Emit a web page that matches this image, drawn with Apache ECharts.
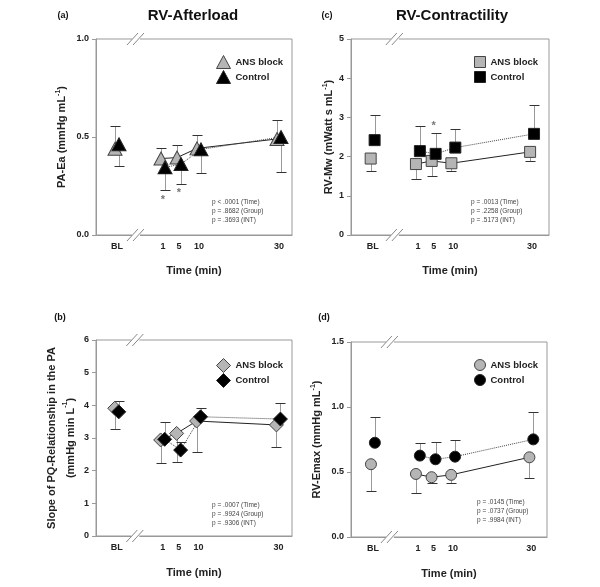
<!DOCTYPE html>
<html>
<head>
<meta charset="utf-8">
<script src="https://cdn.jsdelivr.net/npm/echarts@6/dist/echarts.min.js"></script>
<style>html,body{margin:0;padding:0;background:#fff}#c{width:600px;height:587px}</style>
</head>
<body>
<div id="c"></div>
<script>
// ---- data ----
const timeLabels = ['BL', '1', '5', '10', '30'];
const timeValues = [-10.5, 1, 5, 10, 30];

// (a) RV-Afterload: PA-Ea
const afterloadAns = [0.44, 0.39, 0.395, 0.442, 0.49];
const afterloadAnsSD = [0.115, 0.054, 0.062, 0.066, 0.097];
const afterloadCtrl = [0.463, 0.345, 0.362, 0.437, 0.50];
const afterloadCtrlSD = [0.111, 0.115, 0.10, 0.122, 0.177];
const afterloadSig = [[1, 0.187], [5, 0.224]];
const afterloadP = ['p < .0001 (Time)', 'p = .8682 (Group)', 'p = .3693 (INT)'];

// (c) RV-Contractility: RV-Mw
const contractAns = [1.95, 1.81, 1.89, 1.83, 2.12];
const contractAnsSD = [0.33, 0.39, 0.38, 0.19, 0.24];
const contractCtrl = [2.42, 2.14, 2.07, 2.23, 2.58];
const contractCtrlSD = [0.63, 0.64, 0.52, 0.47, 0.73];
const contractSig = [[5, 2.83]];
const contractP = ['p = .0013 (Time)', 'p = .2258 (Group)', 'p = .5173 (INT)'];

// (b) Slope of PQ-relationship
const slopeAns = [3.91, 2.94, 3.14, 3.52, 3.40];
const slopeAnsSD = [0.63, 0.70, 0.87, 0.94, 0.67];
const slopeCtrl = [3.80, 2.96, 2.63, 3.65, 3.58];
const slopeCtrlSD = [0.34, 0.52, 0.24, 0.26, 0.48];
const slopeSig = [];
const slopeP = ['p = .0007 (Time)', 'p = .9924 (Group)', 'p = .9306 (INT)'];

// (d) RV-Emax
const emaxAns = [0.56, 0.485, 0.46, 0.478, 0.613];
const emaxAnsSD = [0.203, 0.148, 0.046, 0.064, 0.158];
const emaxCtrl = [0.725, 0.626, 0.598, 0.618, 0.751];
const emaxCtrlSD = [0.195, 0.099, 0.13, 0.128, 0.207];
const emaxSig = [];
const emaxP = ['p = .0145 (Time)', 'p = .0737 (Group)', 'p = .9984 (INT)'];

// ---- layout / styling ----
const FONT = '"Liberation Sans", Arial, Helvetica, sans-serif';
const GRAY = '#b5b5b5';
const panels = [
  { ans: afterloadAns, ansSD: afterloadAnsSD, ctrl: afterloadCtrl, ctrlSD: afterloadCtrlSD, sig: afterloadSig, p: afterloadP,
    ansDir: 1, symbol: 'triangle', size: [14, 13],
    grid: { left: 96, top: 39, width: 196, height: 196 }, xMin: -15.75, xMax: 33.25, brk: -5.5,
    yMax: 1, yInt: 0.5, dec: 1, name: 'PA-Ea (mmHg mL{sup|-1})', lh: 13, nameGap: 28, xNameGap: 30,
    legend: { left: 211, top: 50 }, pPos: [212, 202], title: 'RV-Afterload', titlePos: [193, 16], tag: '(a)', tagPos: [63, 16] },
  { ans: contractAns, ansSD: contractAnsSD, ctrl: contractCtrl, ctrlSD: contractCtrlSD, sig: contractSig, p: contractP,
    ansDir: -1, symbol: 'rect', size: [11, 11],
    grid: { left: 351, top: 39, width: 198, height: 196 }, xMin: -16, xMax: 34.3, brk: -4.6,
    yMax: 5, yInt: 1, dec: 0, name: 'RV-Mw (mWatt s mL{sup|-1})', lh: 13, nameGap: 16, xNameGap: 30,
    legend: { left: 469, top: 51 }, pPos: [471, 202], title: 'RV-Contractility', titlePos: [452, 16], tag: '(c)', tagPos: [327, 16] },
  { ans: slopeAns, ansSD: slopeAnsSD, ctrl: slopeCtrl, ctrlSD: slopeCtrlSD, sig: slopeSig, p: slopeP,
    ansDir: -1, symbol: 'diamond', size: [14, 14],
    grid: { left: 96, top: 340, width: 196, height: 196 }, xMin: -15.7, xMax: 33.4, brk: -5.6,
    yMax: 6, yInt: 1, dec: 0, name: 'Slope of PQ-Relationship in the PA\n(mmHg min L{sup|-1})', lh: 19, nameGap: 14, xNameGap: 31,
    legend: { left: 211, top: 353 }, pPos: [212, 505], title: '', tag: '(b)', tagPos: [60, 318] },
  { ans: emaxAns, ansSD: emaxAnsSD, ctrl: emaxCtrl, ctrlSD: emaxCtrlSD, sig: emaxSig, p: emaxP,
    ansDir: -1, symbol: 'circle', size: [11, 11],
    grid: { left: 351, top: 342, width: 196, height: 195 }, xMin: -16.1, xMax: 34, brk: -5.9,
    yMax: 1.5, yInt: 0.5, dec: 1, name: 'RV-Emax (mmHg mL{sup|-1})', lh: 13, nameGap: 28, xNameGap: 31,
    legend: { left: 469, top: 354 }, pPos: [477, 502], title: '', tag: '(d)', tagPos: [324, 318] }
];
const ANS_OFF = -0.5, CTRL_OFF = 0.5;

function errRender(params, api) {
  const x = api.value(0), m = api.value(1), e = api.value(2);
  const p1 = api.coord([x, m]), p2 = api.coord([x, e]);
  const cx = Math.round(p1[0]) + 0.5, ey = Math.round(p2[1]) + 0.5;
  return { type: 'group', children: [
    { type: 'line', shape: { x1: cx, y1: p1[1], x2: cx, y2: ey }, style: { stroke: '#999', lineWidth: 1 } },
    { type: 'line', shape: { x1: cx - 5, y1: ey, x2: cx + 5, y2: ey }, style: { stroke: '#333', lineWidth: 1 } }
  ] };
}
function breakRender(params, api) {
  const p = api.coord([api.value(0), api.value(1)]);
  const x = p[0], y = p[1];
  return { type: 'group', children: [
    { type: 'rect', shape: { x: x - 5, y: y - 2, width: 8, height: 4 }, style: { fill: '#fff' } },
    { type: 'line', shape: { x1: x - 10, y1: y + 6, x2: x + 1, y2: y - 6 }, style: { stroke: '#888', lineWidth: 1 } },
    { type: 'line', shape: { x1: x - 4, y1: y + 6, x2: x + 7, y2: y - 6 }, style: { stroke: '#888', lineWidth: 1 } }
  ] };
}
function sigRender(params, api) {
  const p = api.coord([api.value(0), api.value(1)]);
  return { type: 'text', x: p[0], y: p[1] + 2, style: { text: '*', font: 'bold 11px ' + FONT, fill: '#777', align: 'center', verticalAlign: 'middle' } };
}

const grids = [], xAxes = [], yAxes = [], series = [], legends = [], graphics = [];
panels.forEach((P, i) => {
  // the time axis is drawn on a shifted coordinate (0 at the left frame) so no zero-line appears inside the plot
  const S = -P.xMin;
  const tx = t => t + S;
  const tickPos = timeValues.map(tx);
  grids.push(Object.assign({ show: true, borderColor: '#999', borderWidth: 1, containLabel: false }, P.grid));
  xAxes.push({
    type: 'value', gridIndex: i, min: 0, max: P.xMax - P.xMin, position: 'bottom',
    name: 'Time (min)', nameLocation: 'middle', nameGap: P.xNameGap,
    nameTextStyle: { fontFamily: FONT, fontWeight: 'bold', fontSize: 11, color: '#222' },
    axisLine: { show: true, onZero: false, lineStyle: { color: '#999' } },
    axisTick: { show: false }, splitLine: { show: false },
    axisLabel: { customValues: tickPos, margin: 7, fontFamily: FONT, fontWeight: 'bold', fontSize: 9, color: '#222',
      formatter: v => { const k = tickPos.findIndex(q => Math.abs(q - v) < 1e-6); return k >= 0 ? timeLabels[k] : ''; } }
  });
  yAxes.push({
    type: 'value', gridIndex: i, min: 0, max: P.yMax, interval: P.yInt, position: 'left',
    name: P.name, nameLocation: 'middle', nameGap: P.nameGap, nameRotate: 90,
    nameTextStyle: { fontFamily: FONT, fontWeight: 'bold', fontSize: 11, color: '#222', lineHeight: P.lh,
      rich: { sup: { fontFamily: FONT, fontWeight: 'bold', fontSize: 7, color: '#222', verticalAlign: 'top', lineHeight: P.lh === 19 ? 10 : 7 } } },
    axisLine: { show: true, onZero: false, lineStyle: { color: '#999' } },
    axisTick: { show: true, length: 4, lineStyle: { color: '#999' } },
    splitLine: { show: false },
    axisLabel: { margin: 7, fontFamily: FONT, fontWeight: 'bold', fontSize: 9, color: '#222', formatter: v => v.toFixed(P.dec) }
  });
  const ansPts = P.ans.map((m, k) => [tx(timeValues[k] + ANS_OFF), m]);
  const ctrlPts = P.ctrl.map((m, k) => [tx(timeValues[k] + CTRL_OFF), m]);
  const ansErr = P.ans.map((m, k) => [tx(timeValues[k] + ANS_OFF), m, m + P.ansDir * P.ansSD[k]]);
  const ctrlErr = P.ctrl.map((m, k) => [tx(timeValues[k] + CTRL_OFF), m, m - P.ansDir * P.ctrlSD[k]]);
  series.push(
    { type: 'custom', xAxisIndex: i, yAxisIndex: i, renderItem: breakRender, clip: false, z: 10, silent: true,
      data: [[tx(P.brk), 0], [tx(P.brk), P.yMax]] },
    { type: 'custom', xAxisIndex: i, yAxisIndex: i, renderItem: errRender, z: 2, silent: true, data: ansErr },
    { type: 'custom', xAxisIndex: i, yAxisIndex: i, renderItem: errRender, z: 2, silent: true, data: ctrlErr },
    { type: 'line', xAxisIndex: i, yAxisIndex: i, data: ansPts.slice(1), symbol: 'none', z: 3, silent: true,
      lineStyle: { color: '#222', width: 1, type: 'solid' } },
    { type: 'line', xAxisIndex: i, yAxisIndex: i, data: ctrlPts.slice(1), symbol: 'none', z: 3, silent: true,
      lineStyle: { color: '#444', width: 1, type: 'dotted' } },
    { type: 'scatter', name: 'ANS block', xAxisIndex: i, yAxisIndex: i, data: ansPts, symbol: P.symbol, symbolSize: P.size, z: 4,
      itemStyle: { color: GRAY, borderColor: '#444', borderWidth: 1, opacity: 1 } },
    { type: 'scatter', name: 'Control', xAxisIndex: i, yAxisIndex: i, data: ctrlPts, symbol: P.symbol, symbolSize: P.size, z: 5,
      itemStyle: { color: '#000', borderColor: '#222', borderWidth: 1, opacity: 1 } }
  );
  if (P.sig.length) {
    series.push({ type: 'custom', xAxisIndex: i, yAxisIndex: i, renderItem: sigRender, z: 6, silent: true,
      data: P.sig.map(s => [tx(s[0]), s[1]]) });
  }
  legends.push({
    left: P.legend.left, top: P.legend.top, orient: 'vertical', itemWidth: P.size[0], itemHeight: P.size[1],
    itemGap: 14 - P.size[1], selectedMode: false,
    textStyle: { fontFamily: FONT, fontWeight: 'bold', fontSize: 9.5, color: '#222' },
    data: [
      { name: 'ANS block', icon: P.symbol, itemStyle: { color: GRAY, borderColor: '#444', borderWidth: 1 } },
      { name: 'Control', icon: P.symbol, itemStyle: { color: '#000', borderColor: '#222', borderWidth: 1 } }
    ]
  });
  P.p.forEach((t, k) => {
    graphics.push({ type: 'text', x: P.pPos[0], y: P.pPos[1] + k * 9, silent: true,
      style: { text: t, font: '6.5px ' + FONT, fill: '#444', verticalAlign: 'middle' } });
  });
  if (P.title) {
    graphics.push({ type: 'text', x: P.titlePos[0], y: P.titlePos[1], silent: true,
      style: { text: P.title, font: 'bold 15px ' + FONT, fill: '#111', align: 'center', verticalAlign: 'middle' } });
  }
  graphics.push({ type: 'text', x: P.tagPos[0], y: P.tagPos[1], silent: true,
    style: { text: P.tag, font: 'bold 9px ' + FONT, fill: '#111', align: 'center', verticalAlign: 'middle' } });
});

const chart = echarts.init(document.getElementById('c'), null, { renderer: 'canvas' });
chart.setOption({
  backgroundColor: '#fff',
  animation: false,
  grid: grids, xAxis: xAxes, yAxis: yAxes, legend: legends, series: series, graphic: graphics
});
</script>
</body>
</html>
